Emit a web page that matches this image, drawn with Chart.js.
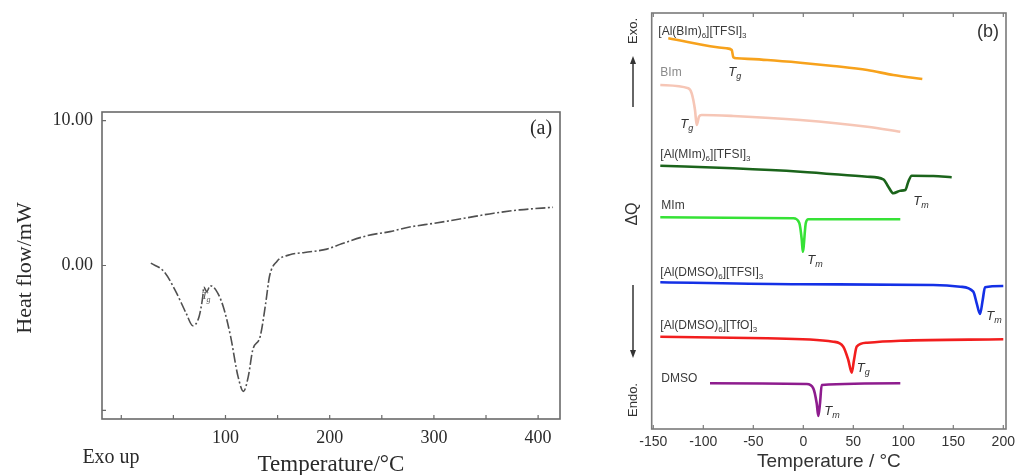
<!DOCTYPE html>
<html><head><meta charset="utf-8">
<script src="https://cdn.jsdelivr.net/npm/chart.js@4.4.0/dist/chart.umd.min.js"></script>
<style>
html,body{margin:0;padding:0;background:#fff;overflow:hidden;width:1015px;height:475px;}
#ca{position:absolute;left:0;top:0;}
#cb{position:absolute;left:600px;top:0;}
</style></head><body>
<canvas id="ca" width="590" height="475"></canvas>
<canvas id="cb" width="415" height="475"></canvas>
<script>
// ---------- Panel (a) data ----------
const aTemp = [28.4, 40.9, 51.5, 62.2, 68.6, 74.7, 78.2, 79.2, 82, 85.3, 90.7, 97.8, 104.9, 112, 117.3, 121.9, 126.2, 133.3, 138.6, 142.2, 149.3, 161.7, 176, 197.3, 211.5, 236.5, 257.8, 275.6, 300.5, 328.9, 357.4, 382.3, 414.3];
const aHeat = [0.16, -0.41, -1.68, -3.29, -4.16, -3.52, -2.14, -1.49, -1.8, -1.4, -1.68, -2.83, -4.9, -7.66, -8.69, -7.66, -5.82, -4.9, -2.6, -0.76, 0.28, 0.74, 0.9, 1.13, 1.5, 2.07, 2.34, 2.64, 2.92, 3.26, 3.61, 3.84, 4.02];
const aXTicks = [0, 50, 100, 150, 200, 250, 300, 350, 400];
const aXLabels = [100, 200, 300, 400];
const aYTicks = [-10, 0, 10];
const aYLabels = {"0": "0.00", "10": "10.00"};

// ---------- Panel (b) data ----------
const bXTicks = [-150, -100, -50, 0, 50, 100, 150, 200];
const bNames = ["[Al(BIm)6][TFSI]3", "BIm", "[Al(MIm)6][TFSI]3", "MIm", "[Al(DMSO)6][TFSI]3", "[Al(DMSO)6][TfO]3", "DMSO"];
const bTempAlBIm = [-135, -77, -71.5, -70, -66.5, -36, -3, 30, 64, 90, 119];
const bAlBIm = [39.07, 38.07, 37.9, 37.17, 37.07, 36.9, 36.63, 36.3, 35.9, 35.4, 35.0];
const bTempBIm = [-143, -115, -111.6, -108.3, -106.6, -104.3, -101.6, -70, -3, 64, 97];
const bBIm = [34.4, 34.07, 33.57, 31.9, 30.4, 31.23, 31.4, 31.3, 30.9, 30.23, 29.73];
const bTempAlMIm = [-143, -70, -3, 64, 80, 85, 90, 97, 102, 105, 108.4, 130, 148.4];
const bAlMIm = [26.33, 26.07, 25.73, 25.23, 24.97, 24.23, 23.57, 23.83, 23.9, 24.73, 25.33, 25.3, 25.17];
const bTempMIm = [-143, -10, -4, -1.5, -0.5, 2.5, 5, 97];
const bMIm = [21.17, 21.07, 20.6, 18.9, 17.73, 20.6, 20.97, 20.97];
const bTempAlDMSOTFSI = [-143, -3, 130, 157, 170, 173.4, 176.7, 179.4, 181.7, 200];
const bAlDMSOTFSI = [14.67, 14.47, 14.4, 14.23, 13.73, 12.57, 11.5, 12.9, 14.17, 14.3];
const bTempAlDMSOTfO = [-143, -36, 30, 40, 45, 48.4, 50.7, 53.4, 64, 97, 200];
const bAlDMSOTfO = [9.23, 9.07, 8.73, 8.23, 6.9, 5.63, 6.9, 8.23, 8.63, 8.83, 8.97];
const bTempDMSO = [-93.3, 3.4, 10, 13.4, 15, 16.7, 18.4, 97];
const bDMSO = [4.57, 4.5, 4.07, 2.57, 1.3, 2.57, 4.4, 4.57];
// transition labels: [temperature, ΔQ, subscript]
const bTransLabels = [[-75, 35.7, "g"], [-123, 30.5, "g"], [110, 22.73, "m"], [4, 16.83, "m"], [183, 11.3, "m"], [53.5, 6.07, "g"], [21, 1.8, "m"]];
// series name positions: [temperature, ΔQ]
const bNamePos = [[-145, 39.73], [-143, 35.63], [-143, 27.4], [-142, 22.3], [-143, 15.63], [-143, 10.3], [-142, 5.07]];

const zip = (xs, ys) => xs.map((x, i) => ({x: x, y: ys[i]}));
const SERIF = '"Liberation Serif", "Times New Roman", serif';
const SANS = '"Liberation Sans", Arial, sans-serif';

function rich(ctx, x, y, parts, size, color) {
  let cx = x;
  ctx.fillStyle = color; ctx.textBaseline = 'middle'; ctx.textAlign = 'left';
  for (const [t, sub, it] of parts) {
    const fs = sub ? Math.round(size * 0.68) : size;
    ctx.font = (it ? 'italic ' : '') + fs + 'px ' + SANS;
    ctx.fillText(t, cx, sub ? y + size * 0.32 : y);
    cx += ctx.measureText(t).width;
  }
}
function nameParts(s) {
  // digits following ')' or ']' become subscripts
  const out = []; let buf = '';
  for (let i = 0; i < s.length; i++) {
    const c = s[i];
    if (/[0-9]/.test(c) && i > 0 && /[\)\]]/.test(s[i - 1])) {
      if (buf) out.push([buf, false, false]); buf = '';
      out.push([c, true, false]);
    } else buf += c;
  }
  if (buf) out.push([buf, false, false]);
  return out;
}
function arrow(ctx, x, y1, y2) {
  ctx.save();
  ctx.strokeStyle = '#333'; ctx.fillStyle = '#333'; ctx.lineWidth = 1.5;
  const dir = y2 < y1 ? -1 : 1;
  ctx.beginPath(); ctx.moveTo(x, y1); ctx.lineTo(x, y2 - dir * 6); ctx.stroke();
  ctx.beginPath(); ctx.moveTo(x, y2); ctx.lineTo(x - 3, y2 - dir * 8); ctx.lineTo(x + 3, y2 - dir * 8); ctx.closePath(); ctx.fill();
  ctx.restore();
}

// ---------- Chart (a) ----------
const plugA = {
  id: 'decoA',
  afterDraw(chart) {
    const ctx = chart.ctx, a = chart.chartArea, xs = chart.scales.x, ys = chart.scales.y;
    ctx.save();
    ctx.strokeStyle = '#6a6a6a'; ctx.lineWidth = 1.6;
    ctx.strokeRect(a.left, a.top, a.right - a.left, a.bottom - a.top);
    ctx.lineWidth = 1.2; ctx.beginPath();
    aXTicks.forEach(v => { const px = xs.getPixelForValue(v); ctx.moveTo(px, a.bottom); ctx.lineTo(px, a.bottom - 4); });
    aYTicks.forEach(v => { const py = ys.getPixelForValue(v); ctx.moveTo(a.left, py); ctx.lineTo(a.left + 4, py); });
    ctx.stroke();
    ctx.fillStyle = '#2a2a2a'; ctx.textBaseline = 'middle';
    ctx.font = '20px ' + SERIF; ctx.textAlign = 'center';
    ctx.fillText('(a)', a.right - 19, a.top + 17);
    ctx.font = '23px ' + SERIF;
    ctx.fillText('Temperature/°C', (a.left + a.right) / 2, 465);
    ctx.font = '20px ' + SERIF;
    ctx.fillText('Exo up', 111, 458);
    ctx.save(); ctx.translate(25, 268); ctx.rotate(-Math.PI / 2);
    ctx.font = '22px ' + SERIF; ctx.fillText('Heat flow/mW', 0, 0); ctx.restore();
    // Tg mark
    const tx = xs.getPixelForValue(77), ty = ys.getPixelForValue(-2.1);
    ctx.fillStyle = '#555'; ctx.textAlign = 'left';
    ctx.font = 'italic 11px ' + SERIF; ctx.fillText('T', tx, ty);
    ctx.font = 'italic 8px ' + SERIF; ctx.fillText('g', tx + 5, ty + 4);
    ctx.restore();
  }
};
new Chart(document.getElementById('ca'), {
  type: 'line',
  data: { datasets: [{
    data: zip(aTemp, aHeat), borderColor: '#505050', borderWidth: 1.6,
    borderDash: [10, 2.5, 2, 2.5], pointRadius: 0, cubicInterpolationMode: 'monotone', fill: false
  }]},
  options: {
    responsive: false, animation: false, events: [],
    layout: { padding: { left: 0, top: 112, right: 30, bottom: 0 } },
    plugins: { legend: { display: false }, tooltip: { enabled: false } },
    scales: {
      x: {
        type: 'linear', min: -18.5, max: 421,
        border: { display: false }, grid: { display: false, drawTicks: false },
        afterBuildTicks: s => { s.ticks = aXTicks.map(v => ({ value: v })); },
        ticks: { autoSkip: false, maxRotation: 0, padding: 8, color: '#2a2a2a',
          font: { family: SERIF, size: 18 },
          callback: v => aXLabels.includes(v) ? String(v) : '' },
        afterFit: s => { s.height = 56; s.paddingLeft = 0; s.paddingRight = 0; }
      },
      y: {
        type: 'linear', min: -10.6, max: 10.6,
        border: { display: false }, grid: { display: false, drawTicks: false },
        afterBuildTicks: s => { s.ticks = aYTicks.map(v => ({ value: v })); },
        ticks: { autoSkip: false, padding: 9, color: '#2a2a2a',
          font: { family: SERIF, size: 18 },
          callback: v => (aYLabels[String(v)] !== undefined ? aYLabels[String(v)] : '') },
        afterFit: s => { s.width = 102; s.paddingTop = 0; s.paddingBottom = 0; }
      }
    }
  },
  plugins: [plugA]
});

// ---------- Chart (b) ----------
const plugB = {
  id: 'decoB',
  afterDraw(chart) {
    const ctx = chart.ctx, a = chart.chartArea, xs = chart.scales.x, ys = chart.scales.y;
    ctx.save();
    ctx.strokeStyle = '#7a7a7a'; ctx.lineWidth = 1.6;
    ctx.strokeRect(a.left, a.top, a.right - a.left, a.bottom - a.top);
    ctx.lineWidth = 1.2; ctx.beginPath();
    bXTicks.forEach(v => { const px = xs.getPixelForValue(v);
      ctx.moveTo(px, a.bottom); ctx.lineTo(px, a.bottom - 4);
      ctx.moveTo(px, a.top); ctx.lineTo(px, a.top + 4); });
    ctx.stroke();
    // series names
    bNames.forEach((n, i) => {
      const p = bNamePos[i];
      rich(ctx, xs.getPixelForValue(p[0]), ys.getPixelForValue(p[1]), nameParts(n), 12, n === 'BIm' ? '#8a8a8a' : '#3a3a3a');
    });
    // transition labels
    bTransLabels.forEach(t => {
      rich(ctx, xs.getPixelForValue(t[0]), ys.getPixelForValue(t[1]), [['T', false, true], [t[2], true, true]], 13, '#333');
    });
    ctx.fillStyle = '#333'; ctx.textAlign = 'center'; ctx.textBaseline = 'middle';
    ctx.font = '18px ' + SANS; ctx.fillText('(b)', a.right - 18, a.top + 19);
    ctx.font = '19px ' + SANS; ctx.fillText('Temperature / °C', (a.left + a.right) / 2, 462);
    // left annotations (canvas x = page x - 600)
    const lx = 33;
    const rot = (txt, y, size) => { ctx.save(); ctx.translate(lx, y); ctx.rotate(-Math.PI / 2);
      ctx.font = size + 'px ' + SANS; ctx.fillText(txt, 0, 0); ctx.restore(); };
    rot('Exo.', 31, 13);
    rot('ΔQ', 214, 16);
    rot('Endo.', 400, 13);
    arrow(ctx, lx, 107, 56);
    arrow(ctx, lx, 285, 358);
    ctx.restore();
  }
};
const ds = (xs, ys, c) => ({ data: zip(xs, ys), borderColor: c, borderWidth: 2.6, pointRadius: 0,
  cubicInterpolationMode: 'monotone', fill: false });
new Chart(document.getElementById('cb'), {
  type: 'line',
  data: { datasets: [
    ds(bTempAlBIm, bAlBIm, '#F7A21C'),
    ds(bTempBIm, bBIm, '#F6C6B6'),
    ds(bTempAlMIm, bAlMIm, '#1B641B'),
    ds(bTempMIm, bMIm, '#36E236'),
    ds(bTempAlDMSOTFSI, bAlDMSOTFSI, '#1430E6'),
    ds(bTempAlDMSOTfO, bAlDMSOTfO, '#F21E1E'),
    ds(bTempDMSO, bDMSO, '#8E1C8E')
  ]},
  options: {
    responsive: false, animation: false, events: [],
    layout: { padding: { left: 51.7, top: 13, right: 9, bottom: 0 } },
    plugins: { legend: { display: false }, tooltip: { enabled: false } },
    scales: {
      x: {
        type: 'linear', min: -151.6, max: 202.7,
        border: { display: false }, grid: { display: false, drawTicks: false },
        afterBuildTicks: s => { s.ticks = bXTicks.map(v => ({ value: v })); },
        ticks: { autoSkip: false, maxRotation: 0, padding: 5, color: '#333',
          font: { family: SANS, size: 14 } },
        afterFit: s => { s.height = 46; s.paddingLeft = 0; s.paddingRight = 0; }
      },
      y: { type: 'linear', min: 0, max: 41.6, display: false }
    }
  },
  plugins: [plugB]
});
</script>
</body></html>
